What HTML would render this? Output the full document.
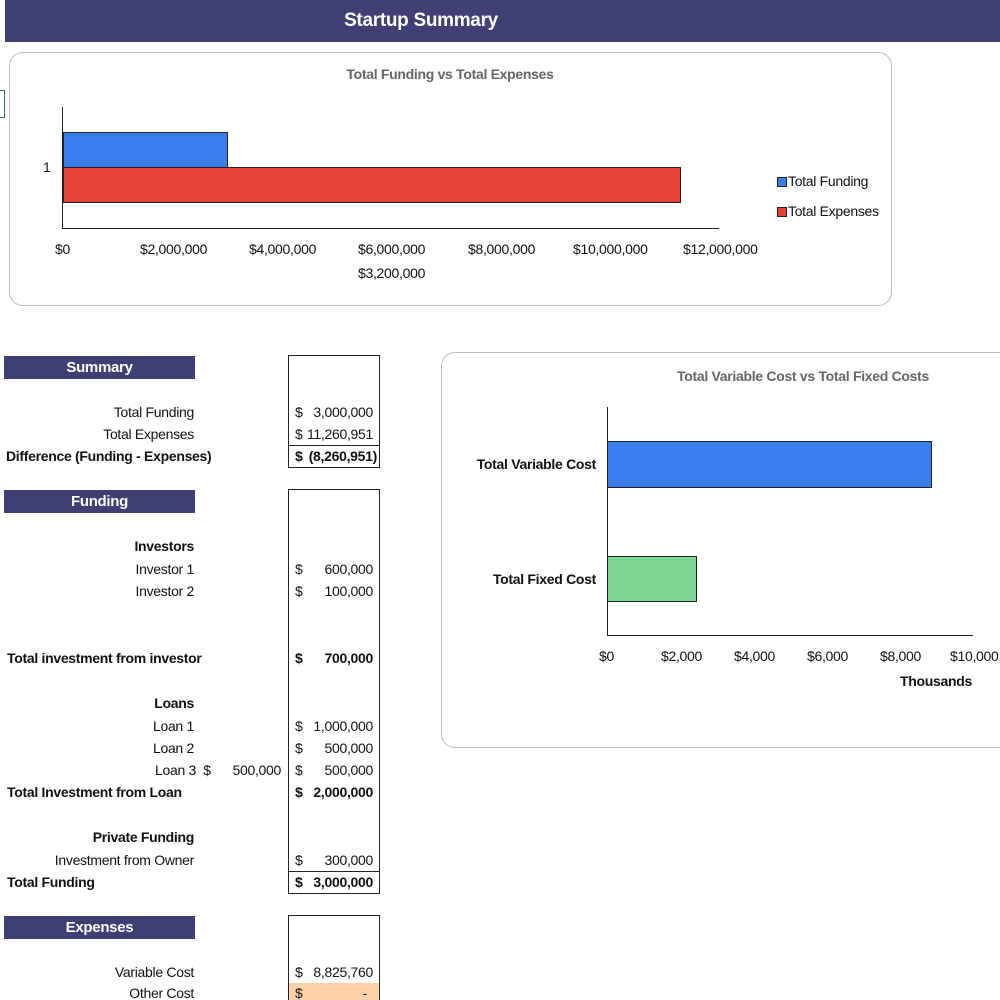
<!DOCTYPE html>
<html><head><meta charset="utf-8"><style>
html,body{margin:0;padding:0;width:1000px;height:1000px;overflow:hidden;background:#fff;position:relative}
body{font-family:"Liberation Sans Narrow","Liberation Sans",Arial,sans-serif;font-size:14px;color:#111;letter-spacing:-0.3px}
.a{position:absolute;white-space:nowrap;line-height:1}
.r{text-align:right}
.b{font-weight:bold}
.hb{position:absolute;left:4px;width:191px;height:23px;background:#3f3f74;color:#fff;font-weight:bold;text-align:center;line-height:23px;font-size:15px}
.box{position:absolute;left:288px;width:90px;border:1px solid #222}
.g{color:#666}
</style></head><body>
<div class="a" style="left:5px;top:0;width:995px;height:42px;background:#3f3f74"></div>
<div class="a b" style="left:321px;width:200px;top:11px;color:#fff;font-size:19px;text-align:center">Startup Summary</div>
<div class="a" style="left:0;top:90px;width:4px;height:26px;border:1px solid #1e7a3c;border-left:none"></div>

<!-- chart 1 -->
<div class="a" style="left:9px;top:52px;width:881px;height:252px;border:1.5px solid #bbb;border-radius:14px"></div>
<div class="a b g" style="left:300px;width:300px;text-align:center;top:67px;font-size:14px">Total Funding vs Total Expenses</div>
<div class="a" style="left:62px;top:107px;width:1px;height:121px;background:#222"></div>
<div class="a" style="left:62px;top:228px;width:657px;height:1px;background:#222"></div>
<div class="a" style="left:63px;top:132px;width:163px;height:34px;background:#3b7ded;border:1px solid #222"></div>
<div class="a" style="left:63px;top:167px;width:616px;height:34px;background:#e84236;border:1px solid #222"></div>
<div class="a" style="left:43px;top:160px">1</div>
<div class="a" style="left:55px;top:242px">$0</div>
<div class="a" style="left:140px;top:242px">$2,000,000</div>
<div class="a" style="left:249px;top:242px">$4,000,000</div>
<div class="a" style="left:358px;top:242px">$6,000,000</div>
<div class="a" style="left:468px;top:242px">$8,000,000</div>
<div class="a" style="left:573px;top:242px">$10,000,000</div>
<div class="a" style="left:683px;top:242px">$12,000,000</div>
<div class="a" style="left:358px;top:266px">$3,200,000</div>
<div class="a" style="left:777px;top:177px;width:8px;height:8px;background:#3b7ded;border:1px solid #222"></div>
<div class="a" style="left:788px;top:174px">Total Funding</div>
<div class="a" style="left:777px;top:207px;width:8px;height:8px;background:#e84236;border:1px solid #222"></div>
<div class="a" style="left:788px;top:204px">Total Expenses</div>

<!-- chart 2 -->
<div class="a" style="left:441px;top:352px;width:580px;height:394px;border:1.5px solid #bbb;border-radius:14px"></div>
<div class="a b g" style="left:653px;width:300px;text-align:center;top:369px">Total Variable Cost vs Total Fixed Costs</div>
<div class="a" style="left:607px;top:407px;width:1px;height:228px;background:#222"></div>
<div class="a" style="left:607px;top:635px;width:366px;height:1px;background:#222"></div>
<div class="a" style="left:607px;top:441px;width:323px;height:45px;background:#3b7ded;border:1px solid #222"></div>
<div class="a" style="left:607px;top:556px;width:88px;height:44px;background:#7dd694;border:1px solid #222"></div>
<div class="a b r" style="right:404px;top:457px">Total Variable Cost</div>
<div class="a b r" style="right:404px;top:572px">Total Fixed Cost</div>
<div class="a" style="left:599px;top:649px">$0</div>
<div class="a" style="left:661px;top:649px">$2,000</div>
<div class="a" style="left:734px;top:649px">$4,000</div>
<div class="a" style="left:807px;top:649px">$6,000</div>
<div class="a" style="left:880px;top:649px">$8,000</div>
<div class="a" style="left:950px;top:649px">$10,000</div>
<div class="a b" style="left:900px;top:674px">Thousands</div>

<!-- tables -->
<div class="hb" style="top:356px">Summary</div>
<div class="hb" style="top:490px">Funding</div>
<div class="hb" style="top:916px">Expenses</div>

<div class="box" style="top:355px;height:111px"></div>
<div class="a" style="left:288px;top:445px;width:92px;height:1px;background:#222"></div>
<div class="box" style="top:489px;height:403px"></div>
<div class="a" style="left:288px;top:871px;width:92px;height:1px;background:#222"></div>
<div class="box" style="top:915px;height:90px"></div>
<div class="a" style="left:289px;top:983px;width:90px;height:20px;background:#fcd1a8"></div>

<div class="a r" style="right:806px;top:405px">Total Funding</div>
<div class="a r" style="right:806px;top:427px">Total Expenses</div>
<div class="a b" style="left:6px;top:449px">Difference (Funding - Expenses)</div>
<div class="a" style="left:295px;top:405px">$</div><div class="a r" style="right:627px;top:405px">3,000,000</div>
<div class="a" style="left:295px;top:427px">$</div><div class="a r" style="right:627px;top:427px">11,260,951</div>
<div class="a b" style="left:295px;top:449px">$</div><div class="a b r" style="right:623px;top:449px">(8,260,951)</div>

<div class="a b r" style="right:806px;top:539px">Investors</div>
<div class="a r" style="right:806px;top:562px">Investor 1</div>
<div class="a r" style="right:806px;top:584px">Investor 2</div>
<div class="a" style="left:295px;top:562px">$</div><div class="a r" style="right:627px;top:562px">600,000</div>
<div class="a" style="left:295px;top:584px">$</div><div class="a r" style="right:627px;top:584px">100,000</div>
<div class="a b" style="left:7px;top:651px">Total investment from investor</div>
<div class="a b" style="left:295px;top:651px">$</div><div class="a b r" style="right:627px;top:651px">700,000</div>

<div class="a b r" style="right:806px;top:696px">Loans</div>
<div class="a r" style="right:806px;top:719px">Loan 1</div>
<div class="a r" style="right:806px;top:741px">Loan 2</div>
<div class="a" style="left:155px;top:763px">Loan 3 &nbsp;$</div>
<div class="a r" style="right:719px;top:763px">500,000</div>
<div class="a" style="left:295px;top:719px">$</div><div class="a r" style="right:627px;top:719px">1,000,000</div>
<div class="a" style="left:295px;top:741px">$</div><div class="a r" style="right:627px;top:741px">500,000</div>
<div class="a" style="left:295px;top:763px">$</div><div class="a r" style="right:627px;top:763px">500,000</div>
<div class="a b" style="left:7px;top:785px">Total Investment from Loan</div>
<div class="a b" style="left:295px;top:785px">$</div><div class="a b r" style="right:627px;top:785px">2,000,000</div>

<div class="a b r" style="right:806px;top:830px">Private Funding</div>
<div class="a r" style="right:806px;top:853px">Investment from Owner</div>
<div class="a" style="left:295px;top:853px">$</div><div class="a r" style="right:627px;top:853px">300,000</div>
<div class="a b" style="left:7px;top:875px">Total Funding</div>
<div class="a b" style="left:295px;top:875px">$</div><div class="a b r" style="right:627px;top:875px">3,000,000</div>

<div class="a r" style="right:806px;top:965px">Variable Cost</div>
<div class="a r" style="right:806px;top:986px">Other Cost</div>
<div class="a" style="left:295px;top:965px">$</div><div class="a r" style="right:627px;top:965px">8,825,760</div>
<div class="a" style="left:295px;top:986px">$</div><div class="a r" style="right:633px;top:986px">-</div>
</body></html>
